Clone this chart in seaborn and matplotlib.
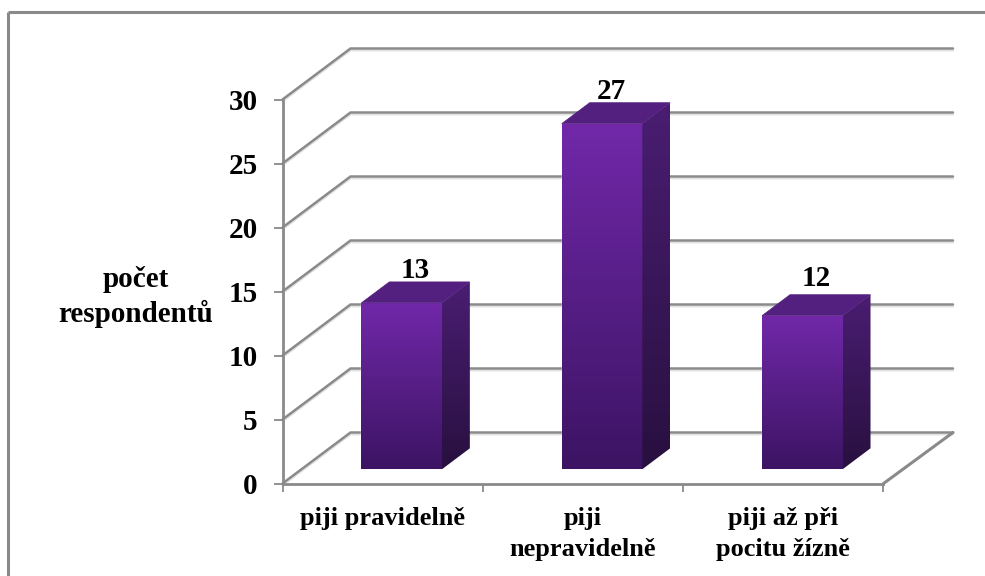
import numpy as np
import pandas as pd
import matplotlib
matplotlib.use("Agg")
import matplotlib.pyplot as plt
from matplotlib.colors import LinearSegmentedColormap
from matplotlib.lines import Line2D
from matplotlib.patches import Polygon
from matplotlib.transforms import Affine2D
import seaborn as sns

# Survey counts
categories = ["piji pravidelně", "piji\nnepravidelně", "piji až při\npocitu žízně"]
respondents = [13, 27, 12]
y_ticks = [0, 5, 10, 15, 20, 25, 30]
y_label = "počet\nrespondentů"

sns.set_theme(style="white")
plt.rcParams["font.family"] = ["Liberation Serif", "DejaVu Serif"]
plt.rcParams["font.weight"] = "bold"

W, H = 985, 576
fig = plt.figure(figsize=(W / 100, H / 100), dpi=100, facecolor="white")

# Front plane of the box in pixels
LEFT, RIGHT, BASE, TOP = 282.5, 883.5, 483.5, 99.5
ax = fig.add_axes([LEFT / W, 1 - BASE / H, (RIGHT - LEFT) / W, (BASE - TOP) / H])
ax.patch.set_alpha(0)
ax.set_zorder(2)

GREY = "#8a8a8a"
frame = dict(transform=fig.transFigure, color=GREY, lw=2.2, solid_capstyle="butt")
fig.add_artist(Line2D([8 / W, 8 / W], [0, 1 - 12 / H], **frame))
fig.add_artist(Line2D([8 / W, 1], [1 - 12 / H, 1 - 12 / H], **frame))

plot_df = pd.DataFrame({"kategorie": categories, "pocet": respondents})
BAR_W = 0.402
sns.barplot(data=plot_df, x="kategorie", y="pocet", ax=ax, width=BAR_W,
            color="#5a2090", saturation=1, order=categories)
ax.set_xlim(-0.5, 2.5)
ax.set_ylim(0, 30)
ax.set_xlabel("")
ax.set_ylabel("")


def depth(t):
    """Oblique shift in display pixels for a depth fraction t of the box."""
    return Affine2D().translate(68 * t, 51 * t)


def to_px(x, y, t=0.0):
    return depth(t).transform(ax.transData.transform((x, y)))


# Back wall, side wall and floor grid, all behind the axes layer
for v in y_ticks:
    p0, p1 = to_px(-0.5, v), to_px(-0.5, v, 1)
    p2 = (953.0, p1[1])
    xs = np.array([p0[0], p1[0], p2[0]])
    ys = np.array([p0[1], p1[1], p2[1]])
    fig.add_artist(Line2D(xs, ys - 2, transform=None, color="#e2e2e2", lw=1.4, zorder=0.5))
    fig.add_artist(Line2D(xs, ys, transform=None, color=GREY, lw=1.8, zorder=0.6,
                          solid_joinstyle="miter"))
floor_a, floor_b = to_px(2.5, 0), (953.0, to_px(-0.5, 0, 1)[1])
fig.add_artist(Line2D([floor_a[0], floor_b[0]], [floor_a[1], floor_b[1]], transform=None,
                      color=GREY, lw=2.2, zorder=0.6))

# Axis lines and ticks
for side in ("top", "right"):
    ax.spines[side].set_visible(False)
for side in ("left", "bottom"):
    ax.spines[side].set_color(GREY)
    ax.spines[side].set_linewidth(2.0)
ax.set_yticks(y_ticks)
ax.set_xticks([0, 1, 2], labels=[""] * 3)
ax.set_xticks([-0.5, 0.5, 1.5, 2.5], minor=True)
ax.tick_params(axis="y", length=6.5, width=1.3, color=GREY, pad=11.5, left=True,
               labelsize=21, labelcolor="black")
ax.tick_params(axis="x", which="major", length=0)
ax.tick_params(axis="x", which="minor", length=5.5, width=1.3, color=GREY, bottom=True)
for lab in ax.get_yticklabels():
    lab.set_fontweight("bold")

front_cmap = LinearSegmentedColormap.from_list("front", ["#7128a9", "#3c1463"])
side_cmap = LinearSegmentedColormap.from_list("side", ["#4a1d72", "#28103f"])
ramp = np.linspace(0, 1, 256).reshape(-1, 1)

# Each bar sits a quarter of the way into the box and is 0.41 of it deep
T_FRONT, T_BACK = 0.28, 0.69
value_offsets = [(33, 39), (28, 39), (33, 44)]
tr_front = ax.transData + depth(T_FRONT)
inv = ax.transData.inverted()
for i, (bar, v) in enumerate(zip(ax.patches, respondents)):
    x0, x1 = bar.get_x(), bar.get_x() + bar.get_width()
    bar.set_transform(tr_front)
    bar.set_zorder(3)
    bar.set_clip_on(False)

    # Pixel corners of the solid
    fr = to_px(x1, 0, T_FRONT)
    ftl, ftr = to_px(x0, v, T_FRONT), to_px(x1, v, T_FRONT)
    br, btr = to_px(x1, 0, T_BACK), to_px(x1, v, T_BACK)
    btl = to_px(x0, v, T_BACK)

    im = ax.imshow(ramp, cmap=front_cmap, aspect="auto", zorder=3.1,
                   extent=(x0, x1, 0, v), transform=tr_front, interpolation="bilinear")
    im.set_clip_path(bar)
    im.set_clip_on(True)

    sx0, sy0 = inv.transform((fr[0], fr[1]))
    sx1, sy1 = inv.transform((btr[0], btr[1]))
    im2 = ax.imshow(ramp, cmap=side_cmap, aspect="auto", zorder=3.2,
                    extent=(sx0, sx1, sy0, sy1), interpolation="bilinear")
    im2.set_clip_path(Polygon([fr, br, btr, ftr], closed=True, transform=None))

    ax.add_patch(Polygon([ftl, ftr, btr, btl], closed=True, transform=None,
                         fc="#53207f", ec="#53207f", lw=0.5, zorder=3.3, clip_on=False))

    # Value above the top face
    ax.annotate(str(v), xy=(i, v), xytext=value_offsets[i], textcoords="offset pixels",
                ha="center", va="baseline", fontsize=21, fontweight="bold",
                color="black", zorder=5, annotation_clip=False)

ax.set_xlim(-0.5, 2.5)
ax.set_ylim(0, 30)

# Category captions
for i, name in enumerate(categories):
    ax.annotate(name, xy=(i, 0), xytext=(0, -24), textcoords="offset pixels",
                ha="center", va="top", fontsize=19, fontweight="bold", color="black",
                linespacing=1.4, annotation_clip=False)

fig.text(136 / W, 1 - 297 / H, y_label, ha="center", va="center", fontsize=21,
         fontweight="bold", color="black", linespacing=1.3)

fig.savefig("out.png", dpi=100, facecolor="white")
